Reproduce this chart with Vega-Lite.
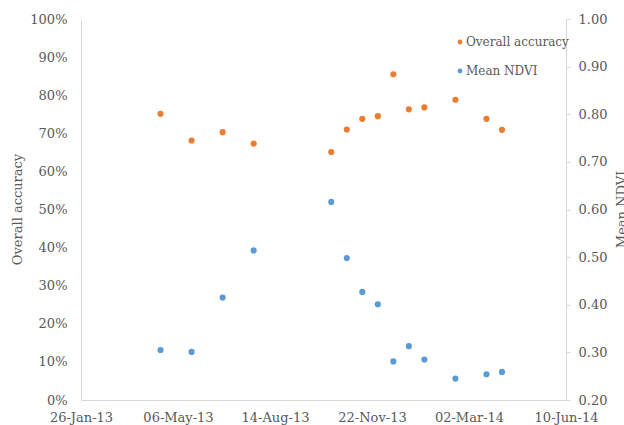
{
  "$schema": "https://vega.github.io/schema/vega-lite/v6.json",
  "width": 485,
  "height": 381,
  "autosize": {"type": "none"},
  "padding": {"left": 81, "top": 19, "right": 58, "bottom": 25},
  "background": "white",
  "config": {
    "view": {"stroke": null},
    "font": "DejaVu Serif",
    "axis": {"labelFont": "DejaVu Serif", "titleFont": "DejaVu Serif", "labelColor": "#595959", "titleColor": "#595959", "labelFontSize": 13, "titleFontSize": 13, "titleFontWeight": "normal", "domainColor": "#D9D9D9", "tickColor": "#D9D9D9", "grid": false},
    "legend": {"labelFont": "DejaVu Serif"}
  },
  "data": {
    "values": [
      {"date": "2013-04-18", "series": "Overall accuracy", "value": 0.751},
      {"date": "2013-05-20", "series": "Overall accuracy", "value": 0.681},
      {"date": "2013-06-21", "series": "Overall accuracy", "value": 0.703},
      {"date": "2013-07-23", "series": "Overall accuracy", "value": 0.673},
      {"date": "2013-10-11", "series": "Overall accuracy", "value": 0.651},
      {"date": "2013-10-27", "series": "Overall accuracy", "value": 0.710},
      {"date": "2013-11-12", "series": "Overall accuracy", "value": 0.738},
      {"date": "2013-11-28", "series": "Overall accuracy", "value": 0.745},
      {"date": "2013-12-14", "series": "Overall accuracy", "value": 0.855},
      {"date": "2013-12-30", "series": "Overall accuracy", "value": 0.763},
      {"date": "2014-01-15", "series": "Overall accuracy", "value": 0.768},
      {"date": "2014-02-16", "series": "Overall accuracy", "value": 0.788},
      {"date": "2014-03-20", "series": "Overall accuracy", "value": 0.738},
      {"date": "2014-04-05", "series": "Overall accuracy", "value": 0.709},
      {"date": "2013-04-18", "series": "Mean NDVI", "value": 0.305},
      {"date": "2013-05-20", "series": "Mean NDVI", "value": 0.301},
      {"date": "2013-06-21", "series": "Mean NDVI", "value": 0.415},
      {"date": "2013-07-23", "series": "Mean NDVI", "value": 0.514},
      {"date": "2013-10-11", "series": "Mean NDVI", "value": 0.616},
      {"date": "2013-10-27", "series": "Mean NDVI", "value": 0.498},
      {"date": "2013-11-12", "series": "Mean NDVI", "value": 0.427},
      {"date": "2013-11-28", "series": "Mean NDVI", "value": 0.401},
      {"date": "2013-12-14", "series": "Mean NDVI", "value": 0.281},
      {"date": "2013-12-30", "series": "Mean NDVI", "value": 0.313},
      {"date": "2014-01-15", "series": "Mean NDVI", "value": 0.285},
      {"date": "2014-02-16", "series": "Mean NDVI", "value": 0.245},
      {"date": "2014-03-20", "series": "Mean NDVI", "value": 0.254},
      {"date": "2014-04-05", "series": "Mean NDVI", "value": 0.259}
    ]
  },
  "encoding": {
    "x": {
      "field": "date", "type": "temporal",
      "scale": {"type": "utc", "domain": [{"year": 2013, "month": 1, "date": 26, "utc": true}, {"year": 2014, "month": 6, "date": 10, "utc": true}], "nice": false},
      "axis": {
        "title": null, "labelExpr": "utcFormat(datum.value, '%d-%b-%y')", "ticks": false, "labelPadding": 11,
        "labelFlush": false, "labelOverlap": false,
        "values": [
          {"year": 2013, "month": 1, "date": 26, "utc": true},
          {"year": 2013, "month": 5, "date": 6, "utc": true},
          {"year": 2013, "month": 8, "date": 14, "utc": true},
          {"year": 2013, "month": 11, "date": 22, "utc": true},
          {"year": 2014, "month": 3, "date": 2, "utc": true},
          {"year": 2014, "month": 6, "date": 10, "utc": true}
        ]
      }
    },
    "color": {
      "field": "series", "type": "nominal",
      "scale": {"domain": ["Overall accuracy", "Mean NDVI"], "range": ["#ED7D31", "#5B9BD5"]},
      "legend": {
        "title": null, "orient": "none", "legendX": 373, "legendY": 17,
        "symbolType": "circle", "symbolSize": 24, "symbolStrokeWidth": 0,
        "labelFont": "DejaVu Serif", "labelFontSize": 12, "labelColor": "#595959",
        "labelOffset": 0, "rowPadding": 17, "padding": 0
      }
    }
  },
  "layer": [
    {
      "transform": [{"filter": "datum.series === 'Overall accuracy'"}],
      "mark": {"type": "point", "shape": "circle", "filled": true, "opacity": 1, "size": 38},
      "encoding": {
        "y": {
          "field": "value", "type": "quantitative",
          "scale": {"domain": [0, 1], "nice": false, "zero": false},
          "axis": {
            "title": "Overall accuracy", "orient": "left", "format": ".0%", "ticks": false, "labelPadding": 14,
            "values": [0, 0.1, 0.2, 0.3, 0.4, 0.5, 0.6, 0.7, 0.8, 0.9, 1.0],
            "titleAngle": -90, "titleX": -64, "titleY": 190, "titleAlign": "center", "titleBaseline": "middle"
          }
        }
      }
    },
    {
      "transform": [{"filter": "datum.series === 'Mean NDVI'"}],
      "mark": {"type": "point", "shape": "circle", "filled": true, "opacity": 1, "size": 38},
      "encoding": {
        "y": {
          "field": "value", "type": "quantitative",
          "scale": {"domain": [0.2, 1], "nice": false, "zero": false},
          "axis": {
            "title": "Mean NDVI", "orient": "right", "format": ".2f", "ticks": true, "tickSize": 4, "labelPadding": 8,
            "values": [0.2, 0.3, 0.4, 0.5, 0.6, 0.7, 0.8, 0.9, 1.0],
            "titleAngle": -90, "titleX": 55, "titleY": 190, "titleAlign": "center", "titleBaseline": "middle"
          }
        }
      }
    }
  ],
  "resolve": {"scale": {"y": "independent"}}
}
